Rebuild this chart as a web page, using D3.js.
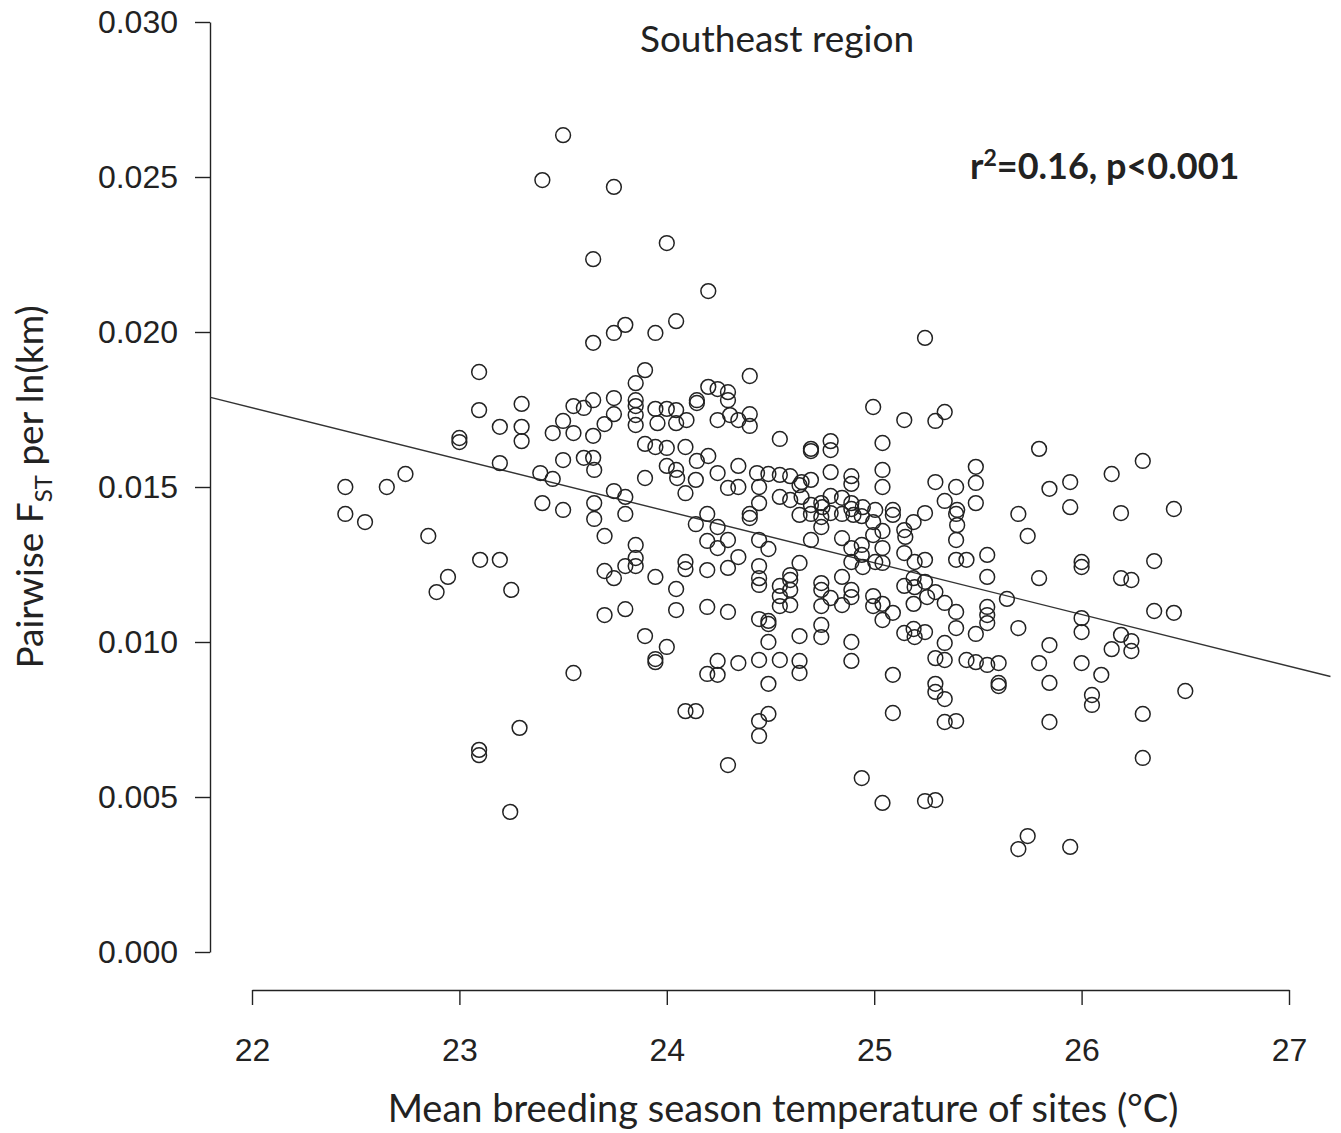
<!DOCTYPE html>
<html>
<head>
<meta charset="utf-8">
<script src="https://cdn.jsdelivr.net/npm/d3@7"></script>
<style>
  body { margin: 0; background: #fff; }
  .tick text { font-family: "Liberation Sans", Arial, sans-serif; font-size: 32px; fill: #222; }
  .tick line, .domain { stroke: #222; stroke-width: 1.4; }
  .lab { font-family: Lato, "Open Sans", sans-serif; fill: #222; }
</style>
</head>
<body>
<div id="chart"></div>
<script>
// mean breeding season temperature (°C) of each pair of sites
var temp = [
  22.45, 22.45, 22.545, 22.65, 22.74, 22.85, 22.945, 22.89, 23.0, 23.0,
  23.095, 23.095, 23.1, 23.195, 23.195, 23.195, 23.25, 23.3, 23.3, 23.3,
  23.095, 23.095, 23.245, 23.29, 23.39, 23.4, 23.4, 23.45, 23.45, 23.5,
  23.5, 23.5, 23.5, 23.55, 23.55, 23.55, 23.6, 23.6, 23.645, 23.645,
  23.645, 23.645, 23.645, 23.65, 23.65, 23.65, 23.7, 23.7, 23.7, 23.7,
  23.745, 23.745, 23.745, 23.745, 23.745, 23.745, 23.8, 23.8, 23.8, 23.8,
  23.8, 23.85, 23.85, 23.85, 23.85, 23.85, 23.85, 23.85, 23.895, 23.895,
  23.895, 23.895, 23.945, 23.945, 23.945, 23.945, 23.945, 23.945, 24.0, 24.0,
  24.0, 24.0, 24.0, 24.045, 24.045, 24.045, 24.045, 24.045, 24.045, 24.09,
  24.09, 24.09, 24.09, 24.09, 24.14, 24.14, 24.14, 24.145, 24.145, 24.145,
  24.2, 24.2, 24.2, 24.195, 24.195, 24.195, 24.195, 24.195, 24.245, 24.245,
  24.245, 24.245, 24.245, 24.245, 24.245, 24.295, 24.295, 24.295, 24.295, 24.295,
  24.295, 24.295, 24.345, 24.345, 24.345, 24.345, 24.345, 24.4, 24.4, 24.4,
  24.4, 24.4, 24.445, 24.445, 24.445, 24.445, 24.445, 24.445, 24.445, 24.445,
  24.445, 24.445, 24.49, 24.49, 24.49, 24.49, 24.49, 24.49, 24.49, 24.545,
  24.545, 24.545, 24.545, 24.545, 24.545, 24.545, 24.595, 24.595, 24.595, 24.595,
  24.595, 24.595, 24.64, 24.64, 24.64, 24.64, 24.64, 24.695, 24.695, 24.695,
  24.695, 24.695, 24.695, 24.745, 24.745, 24.745, 24.745, 24.745, 24.745, 24.745,
  24.745, 24.79, 24.79, 24.79, 24.79, 24.79, 24.79, 24.845, 24.845, 24.845,
  24.845, 24.89, 24.89, 24.89, 24.89, 24.89, 24.89, 24.89, 24.89, 24.89,
  24.89, 24.94, 24.94, 24.94, 24.94, 24.995, 24.995, 24.995, 24.995, 24.995,
  25.04, 25.04, 25.04, 25.04, 25.04, 25.04, 25.04, 25.04, 25.04, 25.09,
  25.09, 25.09, 25.09, 25.09, 25.145, 25.145, 25.145, 25.145, 25.145, 25.19,
  25.19, 25.19, 25.19, 25.245, 25.245, 25.245, 25.245, 25.245, 25.245, 25.295,
  25.295, 25.295, 25.295, 25.295, 25.295, 25.295, 25.34, 25.34, 25.34, 25.34,
  25.34, 25.34, 25.34, 25.395, 25.395, 25.395, 25.395, 25.395, 25.395, 25.395,
  25.445, 25.445, 25.49, 25.49, 25.49, 25.49, 25.49, 25.545, 25.545, 25.545,
  25.545, 25.545, 25.545, 25.6, 25.6, 25.6, 25.64, 25.695, 25.695, 25.695,
  25.74, 25.74, 25.795, 25.795, 25.795, 25.845, 25.845, 25.845, 25.845, 25.945,
  25.945, 25.945, 26.0, 26.0, 26.0, 26.0, 26.0, 26.05, 26.05, 26.095,
  26.145, 26.145, 26.19, 26.19, 26.19, 26.24, 26.24, 26.24, 26.295, 26.295,
  26.295, 26.35, 26.35, 26.445, 26.445, 26.5,
  23.85, 23.955, 24.095, 24.305, 24.05, 24.435, 24.65, 24.65, 24.75, 24.64,
  24.845, 24.945, 25.005, 24.9, 25.4, 25.4, 25.15, 24.945, 25.005, 25.195,
  25.195, 25.255, 25.195
];

// pairwise FST per ln(km), same order as temp
var fst = [
  0.0150, 0.01413, 0.01387, 0.0150, 0.01542, 0.01342, 0.0121, 0.01161, 0.01658, 0.01645,
  0.01871, 0.01748, 0.01265, 0.01694, 0.01577, 0.01265, 0.01168, 0.01768, 0.01694, 0.01648,
  0.00652, 0.00635, 0.00452, 0.00723, 0.01545, 0.01448, 0.0249, 0.01674, 0.01526, 0.02635,
  0.01587, 0.01426, 0.01713, 0.0090, 0.01761, 0.01674, 0.01594, 0.01755, 0.02235, 0.01965,
  0.0178, 0.01665, 0.01594, 0.01555, 0.01448, 0.01397, 0.01342, 0.01703, 0.01229, 0.01087,
  0.02468, 0.01997, 0.01787, 0.01735, 0.01487, 0.01206, 0.02023, 0.01468, 0.01413, 0.01245,
  0.01106, 0.01835, 0.0178, 0.01761, 0.017, 0.01313, 0.01271, 0.01245, 0.01877, 0.01639,
  0.01529, 0.01019, 0.01997, 0.01752, 0.01629, 0.0121, 0.00945, 0.00935, 0.02287, 0.01752,
  0.01626, 0.00984, 0.01568, 0.02035, 0.01748, 0.01706, 0.01555, 0.01171, 0.01103, 0.01629,
  0.01258, 0.01235, 0.0148, 0.00777, 0.01523, 0.0138, 0.00777, 0.01771, 0.0178, 0.01584,
  0.02132, 0.01823, 0.016, 0.01413, 0.01326, 0.01232, 0.01113, 0.00897, 0.01816, 0.01716,
  0.01545, 0.01371, 0.01303, 0.00939, 0.00894, 0.01806, 0.0178, 0.01497, 0.01329, 0.01239,
  0.01097, 0.00603, 0.01716, 0.01568, 0.015, 0.01274, 0.00932, 0.01858, 0.01735, 0.01697,
  0.01413, 0.014, 0.015, 0.01448, 0.01329, 0.01245, 0.01206, 0.01184, 0.01074, 0.00942,
  0.00745, 0.00697, 0.01542, 0.013, 0.01068, 0.01058, 0.01, 0.00865, 0.00768, 0.01655,
  0.01539, 0.01468, 0.01181, 0.01148, 0.01116, 0.00942, 0.01535, 0.01458, 0.01216, 0.012,
  0.01168, 0.01119, 0.01506, 0.01255, 0.01019, 0.00939, 0.009, 0.01623, 0.01616, 0.01442,
  0.01413, 0.01329, 0.01523, 0.01448, 0.01403, 0.01371, 0.0119, 0.01168, 0.01116, 0.01055,
  0.01016, 0.01648, 0.01619, 0.01548, 0.01471, 0.01416, 0.01142, 0.01413, 0.01335, 0.0121,
  0.01119, 0.01535, 0.0151, 0.01448, 0.01429, 0.01303, 0.01258, 0.01168, 0.01145, 0.01,
  0.00939, 0.01406, 0.01313, 0.01281, 0.00561, 0.01758, 0.01387, 0.01345, 0.01148, 0.01116,
  0.01642, 0.01555, 0.015, 0.01358, 0.01303, 0.01255, 0.01123, 0.01071, 0.00481, 0.01426,
  0.0141, 0.01094, 0.00894, 0.00771, 0.01716, 0.01361, 0.01287, 0.01181, 0.01029, 0.01387,
  0.01206, 0.01123, 0.01042, 0.01981, 0.01416, 0.01265, 0.01194, 0.01032, 0.00487, 0.01713,
  0.01516, 0.01161, 0.00948, 0.00865, 0.00839, 0.0049, 0.01742, 0.01455, 0.01126, 0.00997,
  0.00942, 0.00816, 0.00742, 0.015, 0.01413, 0.01329, 0.01265, 0.01097, 0.01045, 0.00745,
  0.01265, 0.00942, 0.01565, 0.01513, 0.01448, 0.01026, 0.00935, 0.01281, 0.0121, 0.01113,
  0.01087, 0.01061, 0.00926, 0.00932, 0.00868, 0.00858, 0.01139, 0.01413, 0.01045, 0.00332,
  0.01342, 0.00374, 0.01623, 0.01206, 0.00932, 0.01494, 0.0099, 0.00868, 0.00742, 0.01516,
  0.01435, 0.00339, 0.01258, 0.01242, 0.01077, 0.01032, 0.00932, 0.00829, 0.00797, 0.00894,
  0.00977, 0.01542, 0.01416, 0.01206, 0.01023, 0.012, 0.01003, 0.00971, 0.01584, 0.00768,
  0.00626, 0.01261, 0.011, 0.01429, 0.01094, 0.00842,
  0.01732, 0.01706, 0.01716, 0.01732, 0.01529, 0.01545, 0.01516, 0.01468, 0.01435, 0.0141,
  0.01465, 0.01435, 0.01426, 0.0141, 0.01426, 0.01377, 0.01339, 0.01242, 0.01258, 0.01258,
  0.01177, 0.01145, 0.01016
];

var xTicks = [22, 23, 24, 25, 26, 27];
var yTicks = [0, 0.005, 0.010, 0.015, 0.020, 0.025, 0.030];

// least squares fit drawn across the whole plot region
var fit = {intercept: 0.05423, slope: -0.001667};
var xlim = [21.8, 27.2];

var W = 1341, H = 1133;

var svg = d3.select("#chart")
  .append("svg")
    .attr("width", W)
    .attr("height", H);

var x = d3.scaleLinear()
    .domain([22, 27])
    .range([252, 1289]);

var y = d3.scaleLinear()
    .domain([0, 0.030])
    .range([952, 22]);

// Y axis
svg.append("g")
    .attr("transform", "translate(210,0)")
    .call(d3.axisLeft(y)
      .tickValues(yTicks)
      .tickSize(15)
      .tickSizeOuter(0)
      .tickPadding(17)
      .tickFormat(d3.format(".3f")));

// X axis
svg.append("g")
    .attr("transform", "translate(0,990)")
    .call(d3.axisBottom(x)
      .tickValues(xTicks)
      .tickSize(15)
      .tickSizeOuter(0)
      .tickPadding(33)
      .tickFormat(d3.format("d")));

// regression line
svg.append("line")
    .attr("x1", x(xlim[0]))
    .attr("y1", y(fit.intercept + fit.slope * xlim[0]))
    .attr("x2", x(xlim[1]))
    .attr("y2", y(fit.intercept + fit.slope * xlim[1]))
    .attr("stroke", "#333")
    .attr("stroke-width", 1.4);

// points
svg.append("g")
  .selectAll("circle")
  .data(d3.range(temp.length))
  .enter()
  .append("circle")
    .attr("cx", function (i) { return x(temp[i]); })
    .attr("cy", function (i) { return y(fst[i]); })
    .attr("r", 7.4)
    .attr("fill", "none")
    .attr("stroke", "#222")
    .attr("stroke-width", 1.5);

// title
svg.append("text")
    .attr("class", "lab")
    .attr("x", 777)
    .attr("y", 52)
    .attr("text-anchor", "middle")
    .style("font-size", "37px")
    .text("Southeast region");

// stats
var st = svg.append("text")
    .attr("class", "lab")
    .attr("x", 970)
    .attr("y", 179)
    .style("font-size", "36px")
    .style("font-weight", "bold");
st.append("tspan").text("r");
st.append("tspan").attr("dy", -13).style("font-size", "23px").text("2");
st.append("tspan").attr("dy", 13).text("=0.16, p<0.001");

// x label
svg.append("text")
    .attr("class", "lab")
    .attr("x", 783)
    .attr("y", 1122)
    .attr("text-anchor", "middle")
    .style("font-size", "38px")
    .text("Mean breeding season temperature of sites (°C)");

// y label
var yl = svg.append("text")
    .attr("class", "lab")
    .attr("transform", "translate(43,487) rotate(-90)")
    .attr("text-anchor", "middle")
    .style("font-size", "37px");
yl.append("tspan").text("Pairwise F");
yl.append("tspan").attr("dy", 9).style("font-size", "24px").text("ST");
yl.append("tspan").attr("dy", -9).text(" per ln(km)");
</script>
</body>
</html>
